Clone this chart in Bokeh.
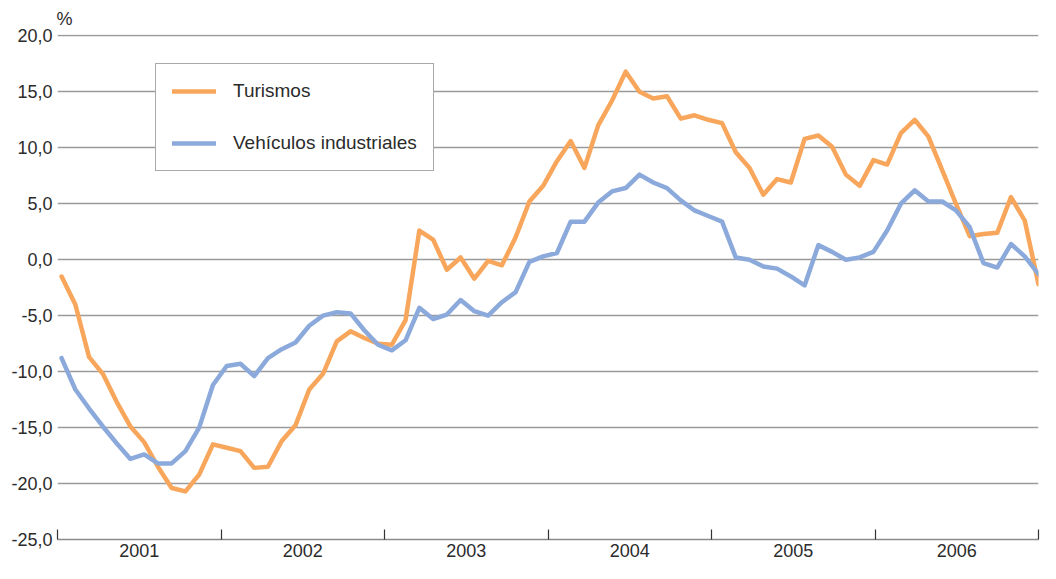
import numpy as np
from bokeh.plotting import figure
from bokeh.models import Range1d, FixedTicker, Legend, LegendItem
from bokeh.embed import file_html
from bokeh.resources import INLINE

# ---- data (monthly, Jan 2001 .. Dec 2006), % ----
years = ["2001", "2002", "2003", "2004", "2005", "2006"]
turismos = [
    -1.5, -4.0, -8.7, -10.2, -12.7, -14.9, -16.3, -18.5, -20.4, -20.7, -19.2, -16.5,
    -16.8, -17.1, -18.6, -18.5, -16.2, -14.8, -11.6, -10.2, -7.3, -6.4, -7.0, -7.5,
    -7.6, -5.4, 2.6, 1.8, -0.9, 0.2, -1.7, -0.1, -0.5, 2.0, 5.2, 6.6,
    8.8, 10.6, 8.2, 12.0, 14.2, 16.8, 15.0, 14.4, 14.6, 12.6, 12.9, 12.5,
    12.2, 9.6, 8.2, 5.8, 7.2, 6.9, 10.8, 11.1, 10.1, 7.6, 6.6, 8.9,
    8.5, 11.3, 12.5, 11.0, 8.0, 5.0, 2.1, 2.3, 2.4, 5.6, 3.5, -2.2,
]
industriales = [
    -8.8, -11.6, -13.3, -14.9, -16.4, -17.8, -17.4, -18.2, -18.2, -17.1, -15.0, -11.2,
    -9.5, -9.3, -10.4, -8.8, -8.0, -7.4, -5.9, -5.0, -4.7, -4.8, -6.3, -7.6,
    -8.1, -7.2, -4.3, -5.3, -4.9, -3.6, -4.6, -5.0, -3.8, -2.9, -0.2, 0.3,
    0.6, 3.4, 3.4, 5.1, 6.1, 6.4, 7.6, 6.9, 6.4, 5.3, 4.4, 3.9,
    3.4, 0.2, 0.0, -0.6, -0.8, -1.5, -2.3, 1.3, 0.7, 0.0, 0.2, 0.7,
    2.6, 5.0, 6.2, 5.2, 5.2, 4.4, 2.9, -0.3, -0.7, 1.4, 0.3, -1.3,
]
y_ticks = [-25, -20, -15, -10, -5, 0, 5, 10, 15, 20]
series_names = ["Turismos", "Vehículos industriales"]

FONT = "Liberation Sans"
TXT = "#2b2b2b"
ORANGE = "#F8A65B"
BLUE = "#8BAADB"

first_year = int(years[0])
last_year = int(years[-1]) + 1
x = np.linspace(first_year + 0.025, last_year, len(turismos))

p = figure(width=1040, height=563, output_backend="svg", toolbar_location=None,
           x_range=Range1d(first_year, last_year), y_range=Range1d(y_ticks[0], y_ticks[-1] + 0.12),
           min_border_left=57, min_border_right=2, min_border_top=33, min_border_bottom=24,
           title="%")
p.outline_line_color = None
p.background_fill_color = "white"
p.border_fill_color = "white"

p.title.align = "left"
p.title.offset = -1
p.title.text_font = FONT
p.title.text_font_size = "18px"
p.title.text_font_style = "normal"
p.title.text_color = TXT
p.title.standoff = 12

# grid
p.xgrid.visible = False
p.ygrid.ticker = FixedTicker(ticks=y_ticks[1:])
p.ygrid.grid_line_color = "#9a9a9a"
p.ygrid.grid_line_width = 1.3

# y axis
p.yaxis.ticker = FixedTicker(ticks=y_ticks)
p.yaxis.major_label_overrides = {t: f"{t:.1f}".replace(".", ",") for t in y_ticks}
p.yaxis.axis_line_color = None
p.yaxis.major_tick_line_color = None
p.yaxis.major_tick_out = 0
p.yaxis.major_tick_in = 0
p.yaxis.minor_tick_line_color = None
p.yaxis.minor_tick_out = 0
p.yaxis.major_label_standoff = 5
p.yaxis.major_label_text_font = FONT
p.yaxis.major_label_text_font_size = "18px"
p.yaxis.major_label_text_color = TXT

# x axis: year labels at mid-year, ticks at year boundaries
mids = [int(y) + 0.5 for y in years]
bounds = [int(y) for y in years] + [last_year]
p.xaxis.ticker = FixedTicker(ticks=mids, minor_ticks=bounds)
p.xaxis.major_label_overrides = {m: y for m, y in zip(mids, years)}
p.xaxis.major_tick_in = 0
p.xaxis.major_tick_out = 0
p.xaxis.minor_tick_in = 10
p.xaxis.minor_tick_out = 0
p.xaxis.minor_tick_line_color = "#333333"
p.xaxis.minor_tick_line_width = 1.2
p.xaxis.axis_line_color = "#8a8a8a"
p.xaxis.axis_line_width = 1.6
p.xaxis.major_label_standoff = 4
p.xaxis.major_label_text_font = FONT
p.xaxis.major_label_text_font_size = "18px"
p.xaxis.major_label_text_color = TXT

r1 = p.line(x, turismos, line_color=ORANGE, line_width=4.5, line_join="round", line_cap="round")
r2 = p.line(x, industriales, line_color=BLUE, line_width=4.5, line_join="round", line_cap="round")

legend = Legend(items=[LegendItem(label=series_names[0], renderers=[r1]),
                       LegendItem(label=series_names[1], renderers=[r2])],
                location=(98, 368))
legend.border_line_color = "#555555"
legend.border_line_width = 1
legend.background_fill_color = "white"
legend.background_fill_alpha = 1
legend.padding = 16
legend.spacing = 30
legend.margin = 0
legend.glyph_width = 44
legend.glyph_height = 20
legend.label_height = 20
legend.label_standoff = 17
legend.label_text_font = FONT
legend.label_text_font_size = "19px"
legend.label_text_color = TXT
p.add_layout(legend, "center")

open("out.html", "w").write(file_html(p, INLINE))
